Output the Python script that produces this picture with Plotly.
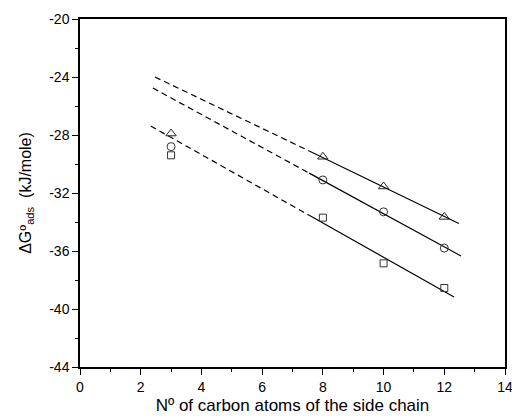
import plotly.graph_objects as go

# Data points
x_pts = [3, 8, 10, 12]
y_triangle = [-27.9, -29.5, -31.55, -33.65]
y_circle = [-28.8, -31.1, -33.3, -35.8]
y_square = [-29.4, -33.7, -36.85, -38.55]

# Fit lines: dashed extrapolation + solid part
fit_x_tri = [2.47, 7.55, 12.48]
fit_y_tri = [-24.0, -29.1, -34.1]
fit_x_cir = [2.4, 7.55, 12.55]
fit_y_cir = [-24.76, -30.63, -36.34]
fit_x_sq = [2.33, 7.55, 12.32]
fit_y_sq = [-27.38, -33.54, -39.17]

x_ticks = [0, 2, 4, 6, 8, 10, 12, 14]
y_ticks = [-44, -40, -36, -32, -28, -24, -20]

fig = go.Figure()

for fx, fy in [(fit_x_tri, fit_y_tri), (fit_x_cir, fit_y_cir), (fit_x_sq, fit_y_sq)]:
    fig.add_trace(go.Scatter(x=fx[:2], y=fy[:2], mode="lines",
                             line=dict(color="black", width=1.2, dash="6px,4px"),
                             showlegend=False, hoverinfo="skip"))
    fig.add_trace(go.Scatter(x=fx[1:], y=fy[1:], mode="lines",
                             line=dict(color="black", width=1.2),
                             showlegend=False, hoverinfo="skip"))

marker_line = dict(color="#333333", width=1)
fig.add_trace(go.Scatter(x=x_pts, y=y_triangle, mode="markers",
                         marker=dict(symbol="triangle-up-open", size=9, color="#222222", line=marker_line),
                         showlegend=False))
fig.add_trace(go.Scatter(x=x_pts, y=y_circle, mode="markers",
                         marker=dict(symbol="circle-open", size=8, color="#333333", line=marker_line),
                         showlegend=False))
fig.add_trace(go.Scatter(x=x_pts, y=y_square, mode="markers",
                         marker=dict(symbol="square-open", size=7, color="#333333", line=marker_line),
                         showlegend=False))

axis_common = dict(showgrid=False, zeroline=False, showline=True, linecolor="black",
                   linewidth=1.5, mirror=True, ticks="outside", ticklen=6, tickwidth=1.2,
                   tickcolor="black", automargin=False, ticklabeloverflow="allow",
                   tickfont=dict(family="Liberation Sans, Arial", size=14, color="black"))

fig.update_xaxes(range=[0, 14], tickvals=x_ticks, ticktext=[str(v) for v in x_ticks],
                 minor=dict(tickvals=[1, 3, 5, 7, 9, 11, 13], ticks="outside", ticklen=3, tickcolor="black"),
                 title=dict(text="Nº of carbon atoms of the side chain",
                            font=dict(family="Liberation Sans, Arial", size=17, color="black"), standoff=6),
                 **axis_common)
fig.update_yaxes(range=[-44, -20], tickvals=y_ticks, ticktext=[str(v) for v in y_ticks],
                 minor=dict(tickvals=[-42, -38, -34, -30, -26, -22], ticks="outside", ticklen=3, tickcolor="black"),
                 title=dict(text="ΔGº<sub>ads</sub>  (kJ/mole)",
                            font=dict(family="Liberation Sans, Arial", size=16, color="black"), standoff=14),
                 **axis_common)

fig.update_layout(width=512, height=416, margin=dict(l=80, r=7, t=19, b=49),
                  plot_bgcolor="white", paper_bgcolor="white")

fig.write_html("out.html", config={"displayModeBar": False},
               post_script="document.body.style.margin='0';")
